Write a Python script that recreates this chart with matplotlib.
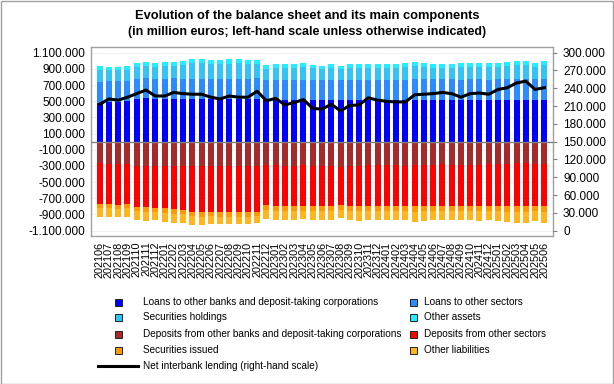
import matplotlib
matplotlib.use("Agg")
import matplotlib.pyplot as plt
import numpy as np
from matplotlib.patches import Rectangle
from matplotlib.lines import Line2D
from matplotlib.ticker import FuncFormatter, FixedLocator

plt.rcParams['font.family'] = ['Liberation Sans', 'DejaVu Sans']

# ---------------- data ----------------
periods = ["202106", "202107", "202108", "202109", "202110", "202111", "202112",
           "202201", "202202", "202203", "202204", "202205", "202206", "202207",
           "202208", "202209", "202210", "202211", "202212", "202301", "202302",
           "202303", "202304", "202305", "202306", "202307", "202308", "202309",
           "202310", "202311", "202312", "202401", "202402", "202403", "202404",
           "202405", "202406", "202407", "202408", "202409", "202410", "202411",
           "202412", "202501", "202502", "202503", "202504", "202505", "202506"]

# assets (in thousands of million euros)
loans_banks_k = [480, 495, 495, 500, 530, 535, 530, 530, 532, 530, 530, 530, 528, 528,
                 530, 530, 530, 532, 510, 512, 512, 512, 512, 510, 510, 512, 510, 512,
                 512, 512, 510, 510, 510, 512, 515, 515, 515, 515, 515, 512, 515, 515,
                 512, 515, 515, 515, 515, 512, 515]
loans_sectors_k = [260, 258, 258, 255, 250, 250, 250, 250, 250, 250, 250, 250, 250, 250,
                   250, 250, 250, 250, 255, 255, 255, 255, 255, 255, 255, 255, 255, 255,
                   255, 255, 255, 255, 255, 255, 255, 255, 255, 255, 255, 255, 255, 255,
                   255, 255, 258, 258, 258, 258, 258]
securities_k = [145, 130, 130, 130, 139, 146, 139, 155, 153, 169, 187, 187, 177, 177,
                183, 187, 175, 173, 138, 145, 148, 148, 154, 142, 128, 148, 128, 145,
                148, 148, 147, 150, 150, 154, 165, 151, 145, 145, 142, 154, 151, 157,
                154, 157, 164, 169, 169, 155, 169]
other_assets_k = [45, 45, 45, 45, 50, 50, 50, 50, 50, 52, 55, 55, 55, 55,
                  55, 55, 55, 55, 45, 45, 45, 45, 48, 45, 43, 45, 43, 45,
                  45, 45, 45, 45, 45, 48, 50, 48, 45, 45, 45, 48, 48, 50,
                  48, 50, 52, 55, 55, 52, 55]

# liabilities (magnitudes, in thousands of million euros)
dep_banks_k = [267, 273, 275, 275, 299, 298, 303, 303, 299, 299, 300, 300, 303, 306,
               303, 305, 305, 297, 291, 289, 300, 296, 291, 304, 305, 299, 308, 301,
               300, 288, 290, 292, 293, 295, 286, 285, 284, 282, 284, 287, 284, 283,
               282, 277, 274, 266, 263, 274, 274]
dep_sectors_k = [503, 502, 503, 500, 506, 514, 517, 522, 536, 546, 568, 570, 565, 564,
                 567, 567, 565, 568, 491, 506, 495, 499, 501, 491, 490, 496, 477, 494,
                 495, 507, 500, 503, 502, 500, 514, 510, 511, 513, 506, 508, 511, 512,
                 508, 518, 526, 534, 537, 521, 526]
sec_issued_k = [50, 50, 50, 50, 55, 55, 55, 55, 55, 55, 55, 55, 55, 55,
                55, 55, 55, 55, 65, 65, 65, 65, 65, 65, 65, 65, 65, 65,
                65, 65, 65, 65, 65, 65, 65, 65, 65, 65, 65, 65, 65, 65,
                65, 65, 65, 65, 65, 65, 65]
other_liab_k = [107, 102, 107, 102, 108, 109, 93, 109, 111, 109, 107, 105, 94, 96,
                92, 90, 96, 89, 104, 108, 108, 108, 103, 108, 108, 108, 93, 108,
                116, 108, 113, 108, 108, 108, 124, 116, 108, 108, 113, 108, 108, 116,
                113, 116, 128, 136, 136, 125, 136]

# net interbank lending (right-hand scale, thousands of million euros)
net_interbank_k = [213, 222, 220, 225, 231, 237, 227, 227, 233, 231, 230, 230, 225, 222,
                   227, 225, 225, 235, 219, 223, 212, 216, 221, 206, 205, 213, 202, 211,
                   212, 224, 220, 218, 217, 217, 229, 230, 231, 233, 231, 225, 231, 232,
                   230, 238, 241, 249, 252, 238, 241]

asset_labels = ["Loans to other banks and deposit-taking corporations",
                "Loans to other sectors", "Securities holdings", "Other assets"]
liab_labels = ["Deposits from other banks and deposit-taking corporations",
               "Deposits from other sectors", "Securities issued", "Other liabilities"]
line_label = "Net interbank lending (right-hand scale)"

title = "Evolution of the balance sheet and its main components"
subtitle = "(in million euros; left-hand scale unless otherwise indicated)"

asset_colors = ["#0000FF", "#2C8CFF", "#33C4F5", "#22EEFF"]
liab_colors = ["#A52A2A", "#FF0000", "#FF9900", "#FFB61E"]

K = 1000.0
assets = [np.array(a) * K for a in (loans_banks_k, loans_sectors_k, securities_k, other_assets_k)]
liabs = [-np.array(a) * K for a in (dep_banks_k, dep_sectors_k, sec_issued_k, other_liab_k)]
net = np.array(net_interbank_k) * K

# ---------------- figure ----------------
W, H = 614, 384
fig = plt.figure(figsize=(W / 100, H / 100), dpi=100)
fig.patch.set_facecolor("white")
fig.patches.append(Rectangle((0.5 / W, 0.5 / H), 1 - 1.5 / W, 1 - 1.5 / H,
                             transform=fig.transFigure, fill=False,
                             edgecolor="#A0A0A0", linewidth=1.0))

ax = fig.add_axes([90.7 / W, 1 - 236 / H, (553.3 - 90.7) / W, (236 - 47.3) / H])
x = np.arange(len(periods))
bw = 0.65

bottom = np.zeros(len(periods))
for vals, c in zip(assets, asset_colors):
    ax.bar(x, vals, bw, bottom=bottom, color=c, linewidth=0, zorder=3)
    bottom = bottom + vals
bottom = np.zeros(len(periods))
for vals, c in zip(liabs, liab_colors):
    ax.bar(x, vals, bw, bottom=bottom, color=c, linewidth=0, zorder=3)
    bottom = bottom + vals

ylo, yhi = -1.166e6, 1.1667e6
ax.set_ylim(ylo, yhi)
ax.set_xlim(-0.97, len(periods) - 0.03)
lticks = np.arange(-1.1e6, 1.1e6 + 1, 2e5)
ax.yaxis.set_major_locator(FixedLocator(lticks))

def fmt(v, pos=None):
    s = f"{abs(int(round(v))):,}".replace(",", ".")
    return ("-" if v < -0.5 else "") + s

ax.yaxis.set_major_formatter(FuncFormatter(fmt))
ax.tick_params(axis="y", length=0, pad=4, labelsize=8.5)
ax.set_xticks(x)
ax.set_xticklabels(periods, rotation=90, fontsize=7.8)
ax.tick_params(axis="x", length=0, pad=4)
ax.grid(axis="y", color="#E6E6E6", linewidth=0.6, linestyle=(0, (2, 1)), zorder=0)
ax.axhline(0, color="#808080", linewidth=1.0, zorder=4)
for s in ax.spines.values():
    s.set_color("#A0A0A0")
    s.set_linewidth(1.0)

ax2 = ax.twinx()
scale = 300000 / 2.2e6
ax2.set_ylim((ylo + 1.1e6) * scale, (yhi + 1.1e6) * scale)
ax2.plot(x, net, color="black", linewidth=2.2, zorder=5, solid_joinstyle="round")
ax2.yaxis.set_major_locator(FixedLocator(np.arange(0, 300001, 30000)))
ax2.yaxis.set_major_formatter(FuncFormatter(fmt))
ax2.tick_params(axis="y", length=3, width=0.8, color="#808080", pad=4, labelsize=8.5)
for s in ax2.spines.values():
    s.set_visible(False)

# titles
fig.text(0.5, 1 - 16 / H, title, ha="center", va="center", fontsize=9.3, fontweight="bold")
fig.text(0.5, 1 - 32 / H, subtitle, ha="center", va="center", fontsize=8.9, fontweight="bold")

# legend (manual layout)
rows_y = [302, 317, 334, 350]
col_marker_x = [115, 410]
col_text_x = [143, 424]
msz = 7
legend_font = 7.2
entries = [(asset_labels[0], asset_colors[0], 0, 0), (asset_labels[1], asset_colors[1], 1, 0),
           (asset_labels[2], asset_colors[2], 0, 1), (asset_labels[3], asset_colors[3], 1, 1),
           (liab_labels[0], liab_colors[0], 0, 2), (liab_labels[1], liab_colors[1], 1, 2),
           (liab_labels[2], liab_colors[2], 0, 3), (liab_labels[3], liab_colors[3], 1, 3)]
for lab, col, c, r in entries:
    yc = rows_y[r]
    fig.patches.append(Rectangle((col_marker_x[c] / W, 1 - (yc + msz / 2) / H), msz / W, msz / H,
                                 transform=fig.transFigure, facecolor=col,
                                 edgecolor="#222222", linewidth=0.7))
    fig.text(col_text_x[c] / W, 1 - yc / H, lab, ha="left", va="center", fontsize=legend_font)
yl = 366
fig.lines.append(Line2D([98 / W, 138 / W], [1 - yl / H, 1 - yl / H], transform=fig.transFigure,
                        color="black", linewidth=2.2))
fig.text(143 / W, 1 - yl / H, line_label, ha="left", va="center", fontsize=legend_font)

fig.savefig("out.png", dpi=100)
